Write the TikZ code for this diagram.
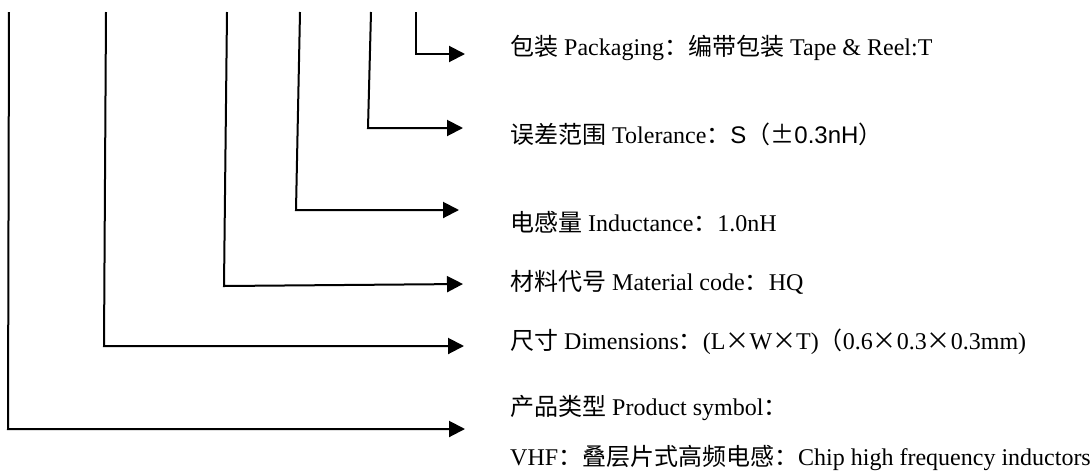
\documentclass[tikz,border=0pt]{standalone}
\usepackage{fontspec}
\setmainfont{Liberation Serif}
\newfontfamily\cjk{Noto Sans CJK SC}
\newfontfamily\arial{Liberation Sans}
\usetikzlibrary{arrows.meta}
\tikzset{
  lead/.style={line width=2pt, -{Triangle[length=16pt,width=16pt]}},
  lbl/.style={anchor=base west, inner sep=0pt, font=\fontsize{24}{27}\selectfont}
}
\begin{document}
\begin{tikzpicture}[x=1pt,y=-1pt]
\useasboundingbox (0,0) rectangle (1091,472);
% top ends
\coordinate (t1) at (9,12);
\coordinate (t2) at (106,12);
\coordinate (t3) at (227,12);
\coordinate (t4) at (300,12);
\coordinate (t5) at (371,12);
\coordinate (t6) at (416,12);
% corners
\coordinate (c1) at (8,429);
\coordinate (c2) at (104,346);
\coordinate (c3) at (224,286);
\coordinate (c4) at (296,210);
\coordinate (c5) at (368,128);
\coordinate (c6) at (416,54);
% arrow tips
\coordinate (e1) at (465,429);
\coordinate (e2) at (464,346);
\coordinate (e3) at (463,284);
\coordinate (e4) at (459,210);
\coordinate (e5) at (463,128);
\coordinate (e6) at (465,54);
\draw[lead] (t1) -- (c1) -- (e1);
\draw[lead] (t2) -- (c2) -- (e2);
\draw[lead] (t3) -- (c3) -- (e3);
\draw[lead] (t4) -- (c4) -- (e4);
\draw[lead] (t5) -- (c5) -- (e5);
\draw[lead] (t6) -- (c6) -- (e6);
% labels
\node[lbl] (l6) at (510,55) {{\cjk 包装} Packaging{\cjk ：编带包装} Tape \& Reel:T};
\node[lbl] (l5) at (510,143) {{\cjk 误差范围} Tolerance{\cjk ：}{\arial S}{\cjk （±}{\arial 0.3nH}{\cjk ）}};
\node[lbl] (l4) at (510,231) {{\cjk 电感量} Inductance{\cjk ：}1.0nH};
\node[lbl] (l3) at (510,290) {{\cjk 材料代号} Material code{\cjk ：}HQ};
\node[lbl] (l2) at (510,349) {{\cjk 尺寸} Dimensions{\cjk ：}(L{\cjk ×}W{\cjk ×}T){\cjk （}0.6{\cjk ×}0.3{\cjk ×}0.3mm)};
\node[lbl] (l1) at (510,415) {{\cjk 产品类型} Product symbol{\cjk ：}};
\node[lbl] (l0) at (510,465) {VHF{\cjk ：叠层片式高频电感：}Chip high frequency inductors};
\end{tikzpicture}
\end{document}
